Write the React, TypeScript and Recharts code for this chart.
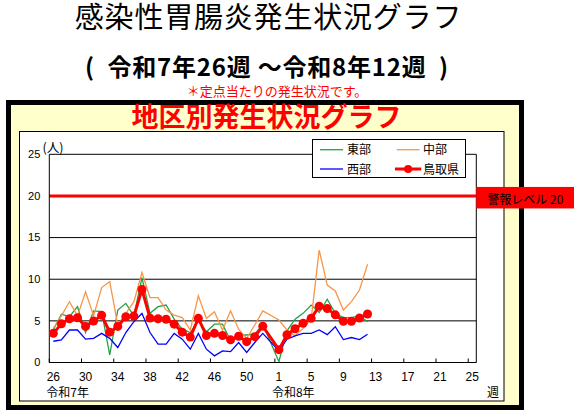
import React from 'react';
import { ComposedChart, Line, XAxis, YAxis, CartesianGrid, ReferenceLine, Legend } from 'recharts';

// ---- data ----
const WEEKS = [
  26, 27, 28, 29, 30, 31, 32, 33, 34, 35, 36, 37, 38, 39, 40, 41, 42, 43, 44, 45, 46, 47, 48, 49, 50, 51, 52, 53,
  1, 2, 3, 4, 5, 6, 7, 8, 9, 10, 11, 12, 13, 14, 15, 16, 17, 18, 19, 20, 21, 22, 23, 24, 25,
];
const X_TICKS = [0, 4, 8, 12, 16, 20, 24, 28, 32, 36, 40, 44, 48, 52];
const Y_TICKS = [0, 5, 10, 15, 20, 25];
const ERA_LABELS: Record<number, string> = { 0: '令和7年', 28: '令和8年' };
const ALERT_LEVEL = 20;
const ALERT_TEXT = '警報レベル 20';

const EAST = [3.9, 5.8, 5.5, 6.7, 3.6, 6.2, 6.1, 0.9, 6.3, 7.1, 5.6, 10.2, 5.9, 6.7, 6.9, 5.2, 4.0, 3.6, 5.0, 3.7, 4.6, 4.6, 2.6, 3.3, 3.3, 3.4, 4.6, null, 0.1, 3.8, 5.2, 5.9, 6.9, 6.0, 7.6, 5.9, 5.4, 5.4, 5.6, 4.9];
const CENTRAL = [4.1, 5.6, 7.3, 5.6, 8.5, 5.6, 9.0, 9.7, 4.5, 5.9, 7.3, 10.8, 7.8, 7.8, 6.3, 5.7, 5.4, 3.9, 8.0, 5.3, 6.1, 3.9, 6.2, 4.0, 2.9, 4.5, 6.2, null, 5.1, 3.9, 3.2, 4.1, 5.2, 13.5, 9.3, 8.6, 6.3, 7.3, 8.7, 11.8];
const WEST = [2.55, 2.7, 3.9, 3.9, 2.8, 2.9, 3.5, 2.9, 1.8, 3.6, 4.9, 5.9, 3.6, 2.2, 2.2, 3.5, 2.8, 1.6, 3.5, 1.6, 0.8, 1.4, 1.3, 2.4, 1.2, 2.4, 3.5, null, 1.4, 2.8, 3.2, 3.5, 3.5, 3.9, 3.35, 4.3, 2.75, 3.0, 2.75, 3.4];
const TOTTORI = [3.5, 4.65, 5.26, 5.38, 4.33, 4.97, 5.66, 3.64, 4.33, 5.5, 5.57, 8.77, 5.33, 5.26, 5.2, 4.6, 3.64, 3.05, 5.3, 3.24, 3.5, 3.24, 2.72, 3.15, 2.5, 3.1, 4.36, null, 1.54, 3.33, 4.05, 4.7, 5.3, 6.75, 6.47, 5.72, 4.95, 4.95, 5.35, 5.83];

const SERIES = [
  { key: 'east', name: '東部', color: '#22A045', width: 1.3, values: EAST, dot: false },
  { key: 'central', name: '中部', color: '#F79646', width: 1.3, values: CENTRAL, dot: false },
  { key: 'west', name: '西部', color: '#0000FF', width: 1.3, values: WEST, dot: false },
  { key: 'tottori', name: '鳥取県', color: '#FF0000', width: 3, values: TOTTORI, dot: true },
];

const data = WEEKS.map((w, i) => {
  const row: Record<string, number | null> = { x: i + 0.5, week: w };
  SERIES.forEach((s) => {
    const v = s.values[i];
    row[s.key] = v === undefined ? null : v;
  });
  return row;
});

// ---- layout ----
const W = 574;
const H = 410;
const PLOT_L = 49.3;
const PLOT_R = 476.3;
const PLOT_T = 154.3;
const PLOT_B = 362.5;
const Y_AXIS_W = 40;
const X_AXIS_H = 40;
const CAT_W = (PLOT_R - PLOT_L) / WEEKS.length;

const JP = '"Noto Sans CJK JP", "Noto Sans", sans-serif';
const NUM = '"Liberation Sans", Arial, sans-serif';

const XTick = (props: any) => {
  const { x, y, payload } = props;
  const idx = payload.value as number;
  const cx = x + CAT_W / 2;
  const era = ERA_LABELS[idx];
  return (
    <g>
      <line x1={x} x2={x} y1={y} y2={y - 4} stroke="#000" strokeWidth={1} />
      <text x={cx} y={y + 18} textAnchor="middle" fontSize={12} fill="#000" fontFamily={NUM}>
        {WEEKS[idx]}
      </text>
      {era && (
        <text x={cx - 7} y={y + 34} textAnchor="start" fontSize={12} fill="#000" fontFamily={JP}>
          {era}
        </text>
      )}
    </g>
  );
};

const AlertLabel = (props: any) => {
  const vb = props.viewBox || {};
  const right = vb.x + vb.width;
  const y = vb.y;
  return (
    <g>
      <rect x={right} y={y - 9} width={W - right} height={21.5} fill="#FF0000" />
      <text x={right + 11} y={y + 8.5} fontSize={12} fill="#000" fontFamily={JP}>
        {ALERT_TEXT}
      </text>
    </g>
  );
};

const LegendContent = () => {
  const cols = [
    { line: [8, 31], text: 35 },
    { line: [84.7, 107.5], text: 111 },
  ];
  const rows = [10.7, 30];
  return (
    <div
      style={{
        position: 'relative',
        width: 154,
        height: 39,
        background: '#fff',
        border: '1px solid #000',
        boxSizing: 'border-box',
        fontFamily: JP,
        fontSize: 12,
        color: '#000',
      }}
    >
      <svg width={154} height={39} style={{ position: 'absolute', left: -1, top: -1 }}>
        {SERIES.map((s, i) => {
          const c = cols[i % 2];
          const ry = rows[Math.floor(i / 2)];
          const x1 = s.dot ? c.line[0] - 1.7 : c.line[0];
          const x2 = s.dot ? c.line[1] + 1.7 : c.line[1];
          return (
            <g key={s.key}>
              <line x1={x1} x2={x2} y1={ry} y2={ry} stroke={s.color} strokeWidth={s.width} />
              {s.dot && <circle cx={(x1 + x2) / 2} cy={ry} r={4} fill={s.color} />}
              <text x={c.text} y={ry + 4.5} fontSize={12} fill="#000" fontFamily={JP}>
                {s.name}
              </text>
            </g>
          );
        })}
      </svg>
    </div>
  );
};

export default function App() {
  return (
    <div style={{ position: 'fixed', left: 0, top: 0, width: W, height: H, background: '#fff' }}>
      <svg width={W} height={H} style={{ position: 'absolute', left: 0, top: 0 }}>
        <rect x={0} y={0} width={W} height={H} fill="#fff" />
        <text x={268.5} y={28} textAnchor="middle" fontSize={29} letterSpacing={0.8} fill="#000" fontFamily={JP}>
          感染性胃腸炎発生状況グラフ
        </text>
        <text x={267} y={76} textAnchor="middle" fontSize={24} letterSpacing={0.8} fontWeight={700} fill="#000" fontFamily={JP}>
          {'(\u00A0 令和7年26週 ～令和8年12週 \u00A0)'}
        </text>
        <text x={277} y={95.5} textAnchor="middle" fontSize={13} fill="#FF0000" fontFamily={JP}>
          ＊定点当たりの発生状況です。
        </text>
        <rect x={6} y={100} width={518} height={320} fill="#000" />
        <rect x={11} y={105} width={508} height={300} fill="#FFFFCC" />
        <rect x={19.5} y={131.5} width={484.5} height={269.5} fill="#fff" stroke="#000" strokeWidth={1} />
        <text x={266.5} y={126.5} textAnchor="middle" fontSize={27} fontWeight={700} fill="#FF0000" fontFamily={JP}>
          地区別発生状況グラフ
        </text>
        <text x={42.5} y={152} fontSize={12.5} fill="#000" fontFamily={JP}>
          (人)
        </text>
        <text x={493} y={396.5} textAnchor="middle" fontSize={12} fill="#000" fontFamily={JP}>
          週
        </text>
      </svg>
      <div style={{ position: 'absolute', left: 0, top: 0 }}>
        <ComposedChart
          width={W}
          height={H}
          data={data}
          margin={{ top: PLOT_T, right: W - PLOT_R, bottom: H - PLOT_B - X_AXIS_H, left: PLOT_L - Y_AXIS_W }}
        >
          <CartesianGrid horizontal vertical={false} stroke="#000" strokeWidth={1} strokeOpacity={1} />
          <XAxis
            type="number"
            dataKey="x"
            domain={[0, WEEKS.length]}
            ticks={X_TICKS}
            interval={0}
            tickSize={0}
            tickMargin={0}
            tickLine={false}
            axisLine={{ stroke: '#000', strokeWidth: 1 }}
            height={X_AXIS_H}
            tick={<XTick />}
            allowDataOverflow
          />
          <YAxis
            type="number"
            domain={[0, 25]}
            ticks={Y_TICKS}
            interval={0}
            width={Y_AXIS_W}
            tickLine={false}
            tickSize={0}
            tickMargin={9}
            axisLine={{ stroke: '#000', strokeWidth: 1 }}
            tick={{ fontSize: 11, fill: '#000', fontFamily: NUM }}
            allowDataOverflow
          />
          <ReferenceLine x={WEEKS.length} stroke="#000" strokeWidth={1} />
          <ReferenceLine y={ALERT_LEVEL} stroke="#FF0000" strokeWidth={3} label={<AlertLabel />} />
          {SERIES.map((s) => (
            <Line
              key={s.key}
              dataKey={s.key}
              name={s.name}
              type="linear"
              stroke={s.color}
              strokeWidth={s.width}
              dot={s.dot ? { r: 4.5, fill: s.color, stroke: s.color, strokeWidth: 0 } : false}
              activeDot={false}
              connectNulls
              isAnimationActive={false}
            />
          ))}
          <Legend
            content={<LegendContent />}
            layout="horizontal"
            verticalAlign="middle"
            align="center"
            wrapperStyle={{ left: 312, top: 139, width: 154, height: 39, margin: 0, padding: 0 }}
          />
        </ComposedChart>
      </div>
    </div>
  );
}
